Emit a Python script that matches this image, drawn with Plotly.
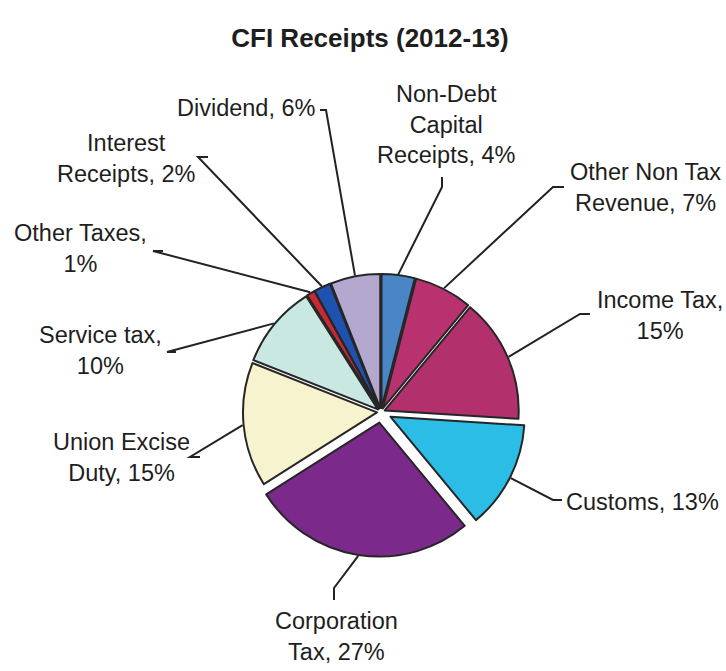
import math
import plotly.graph_objects as go

# ---- data -------------------------------------------------------------
categories = [
    "Non-Debt Capital Receipts", "Other Non Tax Revenue", "Income Tax",
    "Customs", "Corporation Tax", "Union Excise Duty", "Service tax",
    "Other Taxes", "Interest Receipts", "Dividend",
]
shares = [4, 7, 15, 13, 27, 15, 10, 1, 2, 6]
label_texts = [
    "Non-Debt<br>Capital<br>Receipts, 4%",
    "Other Non Tax<br>Revenue, 7%",
    "Income Tax,<br>15%",
    "Customs, 13%",
    "Corporation<br>Tax, 27%",
    "Union Excise<br>Duty, 15%",
    "Service tax,<br>10%",
    "Other Taxes,<br>1%",
    "Interest<br>Receipts, 2%",
    "Dividend, 6%",
]

# ---- styling ----------------------------------------------------------
colors = ["#4a86c6", "#b8326f", "#b2306b", "#2bbde6", "#7b2a8c",
          "#f8f3cf", "#c9e8e2", "#c72a35", "#1f52b0", "#b4a8cf"]
pulls = [0.03, 0.03, 0.03, 0.08, 0.08, 0.03, 0.03, 0.03, 0.03, 0.03]

W, H = 726, 671
CX, CY = 381, 412          # pie centre, pixels
R = 134                    # base radius, pixels
box = 2 * R * (1 + max(pulls))

def px(x):
    return x / W

def py(y):
    return 1 - y / H

# label placement: (x, y, xanchor) in pixels, leader elbow points (pixels)
label_pos = [
    (446, 124, "center"), (645, 188, "center"), (660, 315, "center"),
    (564, 502, "left"), (336, 636, "center"), (121, 457, "center"),
    (100, 350, "center"), (80, 249, "center"), (126, 158, "center"),
    (318, 108, "right"),
]
leader_elbows = [
    [(442, 177), (442, 187)],
    [(564, 187), (553, 187)],
    [(590, 314), (580, 314)],
    [(562, 500), (553, 500)],
    [(334, 600), (334, 588)],
    [(200, 457), (190, 457)],
    [(176, 352), (167, 352)],
    [(163, 251), (153, 251)],
    [(208, 157), (198, 157)],
    [(320, 110), (326, 110)],
]

fig = go.Figure(go.Pie(
    labels=categories,
    values=shares,
    sort=False,
    direction="clockwise",
    rotation=0,
    pull=pulls,
    textinfo="none",
    hoverinfo="label+percent",
    marker=dict(colors=colors, line=dict(color="#262626", width=2)),
    domain=dict(x=[px(CX - box / 2), px(CX + box / 2)],
                y=[py(CY + box / 2), py(CY - box / 2)]),
    showlegend=False,
))

# leader lines from each label to the middle of its slice's outer arc
total = sum(shares)
cum = 0
shapes, annotations = [], []
for i, v in enumerate(shares):
    mid = (cum + v / 2) / total * 2 * math.pi
    cum += v
    rr = R * (1 + pulls[i]) + 1
    ax, ay = CX + rr * math.sin(mid), CY - rr * math.cos(mid)
    pts = leader_elbows[i] + [(ax, ay)]
    path = "M " + " L ".join(f"{px(x)},{py(y)}" for x, y in pts)
    shapes.append(dict(type="path", path=path, xref="paper", yref="paper",
                       line=dict(color="#222222", width=2)))
    lx, ly, anchor = label_pos[i]
    annotations.append(dict(
        text=label_texts[i], x=px(lx), y=py(ly), xref="paper", yref="paper",
        xanchor=anchor, yanchor="middle", align="center", showarrow=False,
        font=dict(family="Liberation Sans, Arial, sans-serif", size=23.5,
                  color="#1e1e1e"),
    ))

fig.update_layout(
    width=W, height=H,
    margin=dict(l=0, r=0, t=0, b=0),
    paper_bgcolor="white", plot_bgcolor="white",
    title=dict(text="<b>CFI Receipts (2012-13)</b>", x=370 / W, xanchor="center",
               y=py(38), yanchor="middle",
               font=dict(family="Liberation Sans, Arial, sans-serif", size=26,
                         color="#1e1e1e")),
    shapes=shapes,
    annotations=annotations,
)

fig.write_html("out.html")
